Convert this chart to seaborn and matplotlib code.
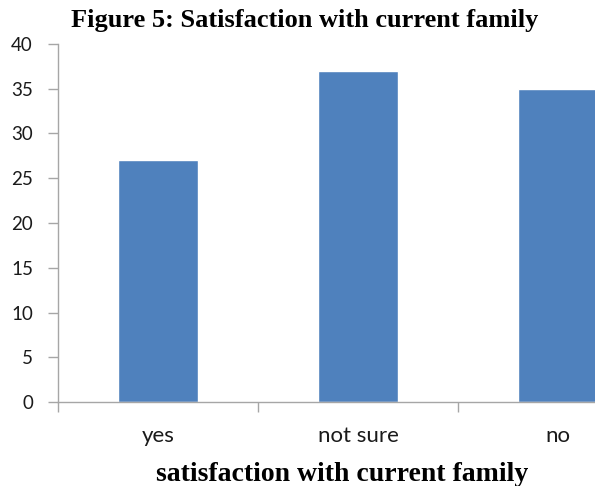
import matplotlib
matplotlib.use("Agg")
import matplotlib.pyplot as plt
import seaborn as sns
import pandas as pd

categories = ["yes", "not sure", "no"]
counts = [27, 37, 35]
y_ticks = [0, 5, 10, 15, 20, 25, 30, 35, 40]

title_text = "Figure 5: Satisfaction with current family"
xlabel_text = "satisfaction with current family"

sns.set_style("white")
plt.rcParams["font.family"] = ["Lato", "DejaVu Sans"]

df = pd.DataFrame({"category": categories, "count": counts})

fig = plt.figure(figsize=(5.95, 4.86), dpi=100)
ax = fig.add_axes([58 / 595, 84 / 486, 600 / 595, 358 / 486])

sns.barplot(data=df, x="category", y="count", color="#4F81BD",
            width=0.4, saturation=1, ax=ax)

ax.set_xlim(-0.5, 2.5)
ax.set_ylim(0, 40)
ax.set_yticks(y_ticks)
ax.set_xlabel("")
ax.set_ylabel("")

for side in ["top", "right"]:
    ax.spines[side].set_visible(False)
for side in ["left", "bottom"]:
    ax.spines[side].set_color("#A6A6A6")
    ax.spines[side].set_linewidth(1.0)

ax.tick_params(axis="y", which="major", length=7, width=1, color="#A6A6A6",
               direction="out", left=True, labelsize=13.5, labelcolor="#1a1a1a", pad=11)
ax.tick_params(axis="x", which="major", length=0, labelsize=16,
               labelcolor="#1a1a1a", pad=17)
ax.set_xticks([-0.5, 0.5, 1.5, 2.5], minor=True)
ax.tick_params(axis="x", which="minor", length=7, width=1, color="#A6A6A6",
               direction="out", bottom=True)

fig.text(305 / 595, 1 - 21 / 486, title_text, ha="center", va="center",
         family="Liberation Serif", fontweight="bold", fontsize=19, color="black")
fig.text(342 / 595, 1 - 474 / 486, xlabel_text, ha="center", va="center",
         family="Liberation Serif", fontweight="bold", fontsize=20, color="black")

fig.savefig("out.png", dpi=100)
